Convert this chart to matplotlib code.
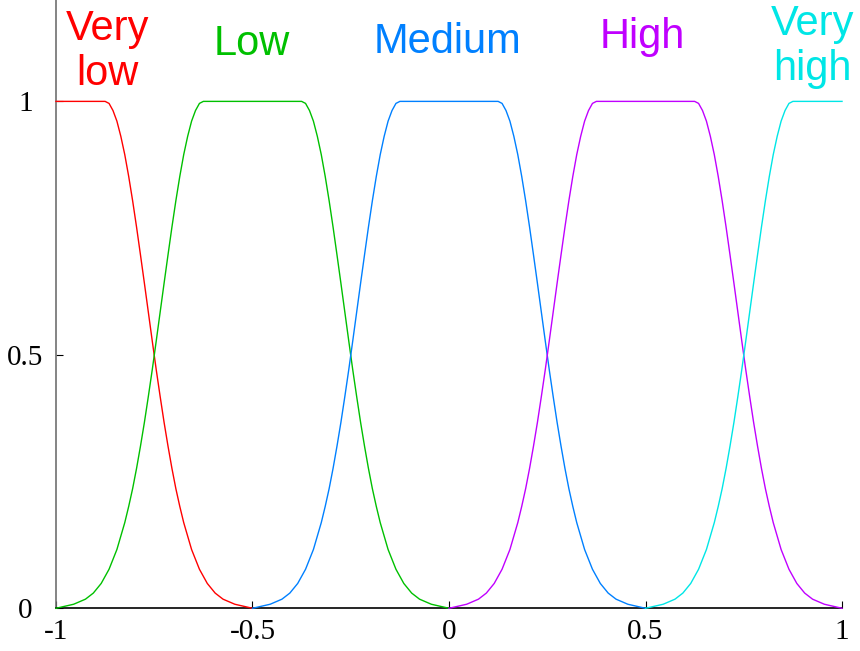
import matplotlib
matplotlib.use("Agg")
from matplotlib import pyplot as plt

# fuzzy sets
labels = ['Very\nlow', 'Low', 'Medium', 'High', 'Very\nhigh']
colors = ['#ff0000', '#00c000', '#0080ff', '#c000ff', '#00e6e6']
rise_at = [None, -0.625, -0.125, 0.375, 0.875]   # where the set reaches 1
fall_at = [-0.875, -0.375, 0.125, 0.625, None]   # where the set leaves 1

# shape of one edge: distance from the shoulder -> membership
edge_dx = [0, 0.01, 0.02, 0.03, 0.04, 0.05, 0.06, 0.07, 0.08, 0.09, 0.10,
           0.11, 0.12, 0.13, 0.14, 0.15, 0.16, 0.17, 0.18, 0.19, 0.20,
           0.22, 0.24, 0.26, 0.28, 0.30, 0.33, 0.375]
edge_mu = [1.0, 0.996, 0.982, 0.961, 0.931, 0.895, 0.852, 0.804, 0.752, 0.697, 0.641,
           0.584, 0.527, 0.471, 0.418, 0.367, 0.320, 0.276, 0.236, 0.201, 0.169,
           0.116, 0.077, 0.049, 0.030, 0.018, 0.008, 0.0]

# label anchors (baseline of the last line)
label_x = [-0.869, -0.501, -0.005, 0.492, 0.925]
label_y = [1.033, 1.091, 1.096, 1.106, 1.043]

fig = plt.figure(figsize=(8.6, 6.51), dpi=100)
ax = fig.add_axes([0.0651, 0.0656, 0.914, 0.9344])

for i in range(len(labels)):
    xs, ys = [], []
    if rise_at[i] is None:
        xs.append(-1.0); ys.append(1.0)
    else:
        for d, m in zip(edge_dx[::-1], edge_mu[::-1]):
            xs.append(rise_at[i] - d); ys.append(m)
    if fall_at[i] is None:
        xs.append(1.0); ys.append(1.0)
    else:
        for d, m in zip(edge_dx, edge_mu):
            xs.append(fall_at[i] + d); ys.append(m)
    ax.plot(xs, ys, color=colors[i], lw=1.0, clip_on=False, zorder=3)
    ax.text(label_x[i], label_y[i], labels[i], color=colors[i], fontsize=30,
            family='Liberation Sans', ha='center', va='baseline',
            linespacing=1.15)

ax.set_xlim(-1, 1)
ax.set_ylim(0, 1.2)
ax.set_xticks([-1, -0.5, 0, 0.5, 1])
ax.set_xticklabels(['-1', '-0.5', '0', '0.5', '1'])
ax.set_yticks([0, 0.5, 1])
ax.set_yticklabels(['0', '0.5', '1'])

for s in ['top', 'right']:
    ax.spines[s].set_visible(False)
ax.spines['left'].set_color('#707070')
ax.spines['left'].set_linewidth(1.2)
ax.spines['bottom'].set_color('black')
ax.spines['bottom'].set_linewidth(1.2)

ax.tick_params(axis='both', direction='in', length=5, width=0.8, color='black',
               labelsize=21)
ax.tick_params(axis='x', pad=8)
ax.tick_params(axis='y', pad=22)
for t in ax.get_xticklabels() + ax.get_yticklabels():
    t.set_family('Liberation Serif')
for t in ax.get_yticklabels():
    t.set_horizontalalignment('center')

fig.savefig('out.png', dpi=100)
